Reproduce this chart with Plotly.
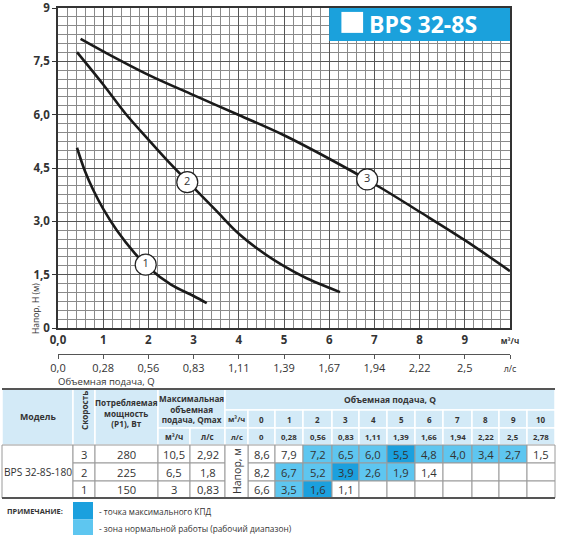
import plotly.graph_objects as go

# ---------------- data ----------------
q1 = [0.42, 0.6, 0.78, 1.0, 1.3, 1.7, 2.0, 2.5, 3.0, 3.29]
h1 = [5.07, 4.4, 3.88, 3.35, 2.75, 2.1, 1.7, 1.22, 0.9, 0.70]
q2 = [0.42, 1.0, 1.5, 2.0, 2.5, 3.0, 3.5, 4.0, 4.5, 5.0, 5.5, 6.0, 6.24]
h2 = [7.76, 6.85, 6.02, 5.3, 4.6, 3.95, 3.3, 2.65, 2.15, 1.74, 1.4, 1.13, 1.01]
q3 = [0.5, 1, 2, 3, 4, 5, 6, 7, 8, 9, 10]
h3 = [8.13, 7.78, 7.12, 6.55, 5.99, 5.42, 4.76, 4.05, 3.27, 2.47, 1.6]

label_q = [1.94, 2.86, 6.84]
label_h = [1.78, 4.1, 4.18]
label_text = ["1", "2", "3"]

x_tickvals = [0, 1, 2, 3, 4, 5, 6, 7, 8, 9, 10]
x_ticktext = ["0,0", "1", "2", "3", "4", "5", "6", "7", "8", "9",
              "<span style='font-size:8px'>м³/ч</span>"]
ls_ticktext = ["0,0", "0,28", "0,56", "0,83", "1,11", "1,39", "1,67", "1,94",
               "2,22", "2,5", "<span style='font-size:9px'>л/с</span>"]
y_tickvals = [0, 1.5, 3, 4.5, 6, 7.5, 9]
y_ticktext = ["0", "1,5", "3,0", "4,5", "6,0", "7,5", "9"]

title_text = "BPS 32-8S"

model_name = "BPS 32-8S-180"
speeds = ["3", "2", "1"]
power = ["280", "225", "150"]
qmax_m3h = ["10,5", "6,5", "3"]
qmax_ls = ["2,92", "1,8", "0,83"]
q_cols_m3h = ["0", "1", "2", "3", "4", "5", "6", "7", "8", "9", "10"]
q_cols_ls = ["0", "0,28", "0,56", "0,83", "1,11", "1,39", "1,66", "1,94", "2,22", "2,5", "2,78"]
head_speed3 = [8.6, 7.9, 7.2, 6.5, 6.0, 5.5, 4.8, 4.0, 3.4, 2.7, 1.5]
head_speed2 = [8.2, 6.7, 5.2, 3.9, 2.6, 1.9, 1.4]
head_speed1 = [6.6, 3.5, 1.6, 1.1]
# 0 = none, 1 = normal working zone, 2 = max efficiency point
zone_speed3 = [0, 0, 1, 1, 1, 2, 1, 1, 1, 1, 0]
zone_speed2 = [0, 1, 1, 2, 1, 1, 0]
zone_speed1 = [0, 1, 2, 0]

# ---------------- style ----------------
FONT = "Open Sans"
TXT = "#333333"
CURVE = "#1a1a1a"
BLUE_DARK = "#1ba0de"
BLUE_LIGHT = "#5ec6f0"
HEAD_BG = "#d3eaf7"
W, H = 570, 542

def py(p):  # pixel row -> paper y
    return 1 - p / H

fig = go.Figure()

for q, h in [(q1, h1), (q2, h2), (q3, h3)]:
    fig.add_trace(go.Scatter(x=q, y=h, mode="lines", line=dict(color=CURVE, width=2.6, shape="spline"),
                             hoverinfo="skip", showlegend=False))

fig.add_trace(go.Scatter(x=label_q, y=label_h, mode="markers+text", text=label_text,
                         textposition="middle center",
                         textfont=dict(family=FONT, size=11, color=TXT),
                         marker=dict(symbol="circle", size=21, color="white",
                                     line=dict(color="#222", width=1.2)),
                         hoverinfo="skip", showlegend=False))

# invisible trace to hold the secondary (l/s) axis
fig.add_trace(go.Scatter(x=[0, 10], y=[0, 0], xaxis="x2", yaxis="y", mode="markers",
                         marker=dict(opacity=0), hoverinfo="skip", showlegend=False))
# invisible trace for the table axes
fig.add_trace(go.Scatter(x=[0, W], y=[380, H], xaxis="x3", yaxis="y3", mode="markers",
                         marker=dict(opacity=0), hoverinfo="skip", showlegend=False))

shapes = []
annotations = []

# title box
shapes.append(dict(type="rect", xref="x", yref="y", x0=6.0, x1=10.0, y0=8.07, y1=9.0,
                   fillcolor="#1ba1dc", line=dict(width=0), layer="above"))
shapes.append(dict(type="rect", xref="x", yref="y", x0=6.27, x1=6.75, y0=8.3, y1=8.89,
                   fillcolor="white", line=dict(width=0), layer="above"))
annotations.append(dict(xref="x", yref="y", x=6.84, y=8.54, text="<b>" + title_text + "</b>",
                        showarrow=False, xanchor="left", yanchor="middle",
                        font=dict(family=FONT, size=23, color="white")))

# axis captions
annotations.append(dict(xref="paper", yref="paper", x=56 / W, y=py(381), text="Объемная подача, Q",
                        showarrow=False, xanchor="left", yanchor="middle",
                        font=dict(family=FONT, size=9.5, color=TXT)))
annotations.append(dict(xref="paper", yref="paper", x=35 / W, y=py(309), text="Напор, H (м)",
                        showarrow=False, xanchor="center", yanchor="middle", textangle=-90,
                        font=dict(family=FONT, size=8.5, color=TXT)))

# ---------------- table ----------------
col_edges = [2, 73, 95, 158, 190, 225, 248, 275, 303, 332, 359, 387, 415, 443, 472, 499, 527, 555]
row_edges = [389, 410, 428, 445, 463, 481, 498]


def cell(c0, c1, r0, r1, text, fill, line_color, size, bold=False, angle=0, lw=1, dy=0):
    x0, x1 = col_edges[c0], col_edges[c1]
    y0, y1 = row_edges[r0], row_edges[r1]
    shapes.append(dict(type="rect", xref="x3", yref="y3", x0=x0, x1=x1, y0=y0, y1=y1,
                       fillcolor=fill, line=dict(color=line_color, width=lw), layer="below"))
    if text != "":
        annotations.append(dict(xref="x3", yref="y3", x=(x0 + x1) / 2, y=(y0 + y1) / 2 + dy,
                                text=("<b>%s</b>" % text) if bold else text, showarrow=False,
                                xanchor="center", yanchor="middle", textangle=angle,
                                font=dict(family=FONT, size=size, color=TXT)))


HB = "white"
cell(0, 1, 0, 3, "Модель", HEAD_BG, HB, 8.8, True, lw=1.5)
cell(1, 2, 0, 3, "Скорость", HEAD_BG, HB, 8.2, True, angle=-90, lw=1.5, dy=-6)
cell(2, 3, 0, 3, "Потребляемая<br>мощность<br>(P1), Вт", HEAD_BG, HB, 8.2, True, lw=1.5, dy=-4)
cell(3, 5, 0, 2, "Максимальная<br>объемная<br>подача, Qmax", HEAD_BG, HB, 8.2, True, lw=1.5)
cell(3, 4, 2, 3, "м³/ч", HEAD_BG, HB, 8, True, lw=1.5)
cell(4, 5, 2, 3, "л/с", HEAD_BG, HB, 8, True, lw=1.5)
cell(5, 17, 0, 1, "Объемная подача, Q", HEAD_BG, HB, 8.5, True, lw=1.5)
cell(5, 6, 1, 2, "м³/ч", HEAD_BG, HB, 7.5, True, lw=1.5)
cell(5, 6, 2, 3, "л/с", HEAD_BG, HB, 7.5, True, lw=1.5)
for j in range(11):
    cell(6 + j, 7 + j, 1, 2, q_cols_m3h[j], HEAD_BG, HB, 8, True, lw=1.5)
    cell(6 + j, 7 + j, 2, 3, q_cols_ls[j], HEAD_BG, HB, 7.8, True, lw=1.5)

GL = "#9a9a9a"
DS = 11.2
cell(0, 1, 3, 6, model_name, "white", GL, 10.2)
heads = [head_speed3, head_speed2, head_speed1]
zones = [zone_speed3, zone_speed2, zone_speed1]
zone_fill = {0: "white", 1: BLUE_LIGHT, 2: BLUE_DARK}
for i in range(3):
    r = 3 + i
    cell(1, 2, r, r + 1, speeds[i], "white", GL, DS)
    cell(2, 3, r, r + 1, power[i], "white", GL, DS)
    cell(3, 4, r, r + 1, qmax_m3h[i], "white", GL, DS)
    cell(4, 5, r, r + 1, qmax_ls[i], "white", GL, DS)
    for j in range(11):
        if j < len(heads[i]):
            txt = ("%.1f" % heads[i][j]).replace(".", ",")
            fill = zone_fill[zones[i][j]]
        else:
            txt = ""
            fill = "white"
        cell(6 + j, 7 + j, r, r + 1, txt, fill, GL, DS)
cell(5, 6, 3, 6, "Напор, м", "white", GL, 10.5, angle=-90)

# table outer rules
for yy in (row_edges[0], row_edges[-1]):
    shapes.append(dict(type="line", xref="x3", yref="y3", x0=col_edges[0], x1=col_edges[-1],
                       y0=yy, y1=yy, line=dict(color="#555", width=2), layer="above"))

# note / legend
annotations.append(dict(xref="x3", yref="y3", x=5, y=511, text="<b>ПРИМЕЧАНИЕ:</b>", showarrow=False,
                        xanchor="left", yanchor="middle", font=dict(family=FONT, size=7.4, color=TXT)))
shapes.append(dict(type="rect", xref="x3", yref="y3", x0=73, x1=93, y0=502, y1=519.5,
                   fillcolor=BLUE_DARK, line=dict(width=0)))
shapes.append(dict(type="rect", xref="x3", yref="y3", x0=73, x1=93, y0=519.5, y1=535,
                   fillcolor=BLUE_LIGHT, line=dict(width=0)))
annotations.append(dict(xref="x3", yref="y3", x=97, y=511, text="- точка максимального КПД",
                        showarrow=False, xanchor="left", yanchor="middle",
                        font=dict(family=FONT, size=8.3, color=TXT)))
annotations.append(dict(xref="x3", yref="y3", x=97, y=528,
                        text="- зона нормальной работы (рабочий диапазон)",
                        showarrow=False, xanchor="left", yanchor="middle",
                        font=dict(family=FONT, size=8.3, color=TXT)))

fig.update_layout(
    width=W, height=H, margin=dict(l=0, r=0, t=0, b=0, autoexpand=False),
    paper_bgcolor="white", plot_bgcolor="rgba(0,0,0,0)",
    showlegend=False, hovermode=False,
    xaxis=dict(domain=[58 / W, 510 / W], range=[0, 10], anchor="y", automargin=False,
               tickvals=x_tickvals, ticktext=x_ticktext,
               tickfont=dict(family=FONT, size=11.5, color=TXT, weight="bold"),
               showgrid=True, gridcolor="#555", gridwidth=1.1,
               minor=dict(dtick=0.2, tick0=0, showgrid=True, gridcolor="#8a8a8a", gridwidth=0.7),
               showline=True, linecolor="#333", linewidth=1.6, mirror=True,
               ticks="", zeroline=False, fixedrange=True, showspikes=False),
    yaxis=dict(domain=[py(328), py(8)], range=[0, 9], anchor="x", automargin=False,
               tickvals=y_tickvals, ticktext=y_ticktext,
               tickfont=dict(family=FONT, size=11.5, color=TXT, weight="bold"),
               showgrid=True, gridcolor="#555", gridwidth=1.1,
               minor=dict(dtick=0.25, tick0=0, showgrid=True, gridcolor="#8a8a8a", gridwidth=0.7),
               showline=True, linecolor="#333", linewidth=1.6, mirror=True,
               ticks="outside", ticklen=4, tickcolor="#333",
               zeroline=False, fixedrange=True, showspikes=False),
    xaxis2=dict(overlaying="x", anchor="free", position=py(354), side="bottom", range=[0, 10],
                automargin=False,
                tickvals=x_tickvals, ticktext=ls_ticktext,
                tickfont=dict(family=FONT, size=11, color=TXT),
                showgrid=False, showline=True, linecolor="#555", linewidth=1.4,
                ticks="outside", ticklen=4, tickcolor="#555", zeroline=False, fixedrange=True),
    xaxis3=dict(domain=[0, 1], range=[0, W], anchor="y3", visible=False, fixedrange=True,
                automargin=False),
    yaxis3=dict(domain=[0, py(380)], range=[H, 380], anchor="x3", visible=False, fixedrange=True,
                automargin=False),
    shapes=shapes, annotations=annotations,
)

fig.write_html("out.html", config={"displayModeBar": False},
               post_script="document.body.style.margin='0px';")
